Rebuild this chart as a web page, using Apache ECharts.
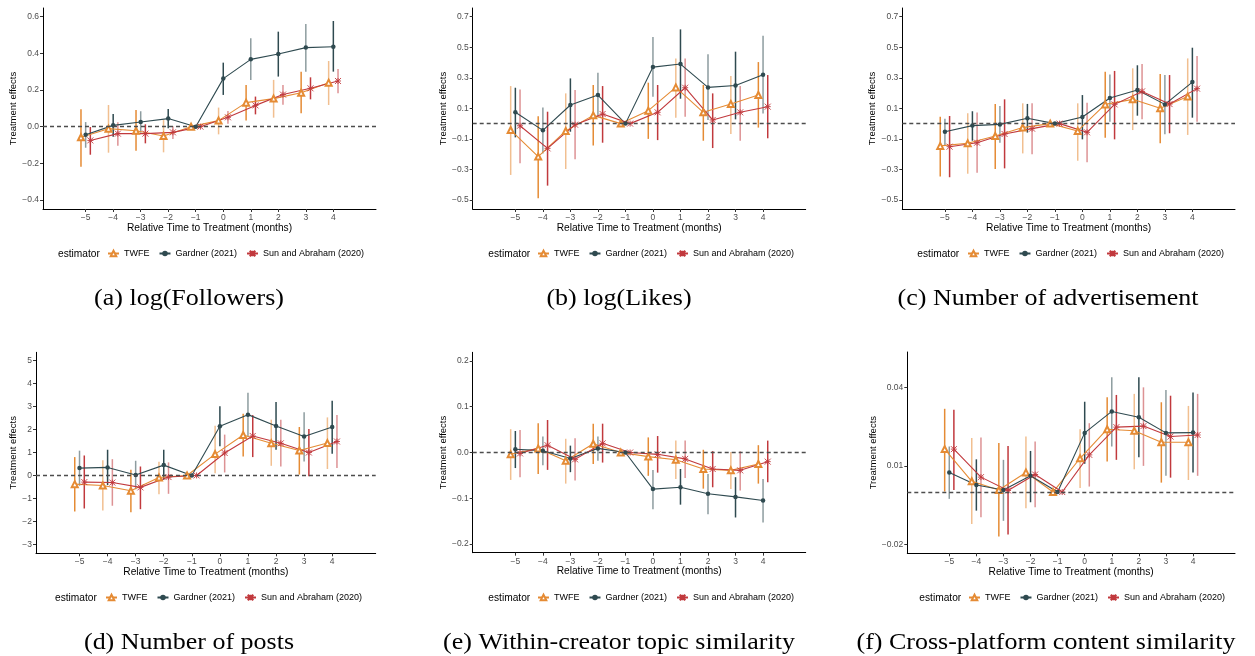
<!DOCTYPE html>
<html><head><meta charset="utf-8">
<script src="https://cdn.jsdelivr.net/npm/echarts@6/dist/echarts.min.js"></script>
<style>html,body{margin:0;padding:0;background:#fff}#c{width:1255px;height:656px}</style>
</head><body><div id="c"></div>
<script>
// ---------- data ----------
const periods = [-5, -4, -3, -2, -1, 0, 1, 2, 3, 4];
const estimators = ['TWFE', 'Gardner (2021)', 'Sun and Abraham (2020)'];

// (a) log(Followers)
const a_twfe = [-0.058, -0.011, -0.022, -0.051, 0, 0.033, 0.131, 0.153, 0.185, 0.240];
const a_twfe_ci = [[-0.218,0.095],[-0.142,0.118],[-0.131,0.091],[-0.140,0.036],null,[-0.042,0.104],[0.033,0.227],[0.049,0.255],[0.073,0.300],[0.118,0.358]];
const a_gard = [-0.044, 0.007, 0.025, 0.044, 0, 0.262, 0.367, 0.396, 0.431, 0.436];
const a_gard_ci = [[-0.115,0.025],[-0.055,0.069],[-0.033,0.084],[-0.009,0.096],null,[0.173,0.349],[0.255,0.482],[0.273,0.518],[0.300,0.560],[0.300,0.576]];
const a_sa = [-0.075, -0.038, -0.038, -0.031, 0, 0.051, 0.116, 0.175, 0.209, 0.249];
const a_sa_ci = [[-0.153,-0.002],[-0.104,0.024],[-0.091,0.013],[-0.067,0.002],null,[0.016,0.085],[0.067,0.164],[0.120,0.227],[0.149,0.269],[0.182,0.315]];
const a_yTicks = [-0.4, -0.2, 0, 0.2, 0.4, 0.6];

// (b) log(Likes)
const b_twfe = [-0.042, -0.216, -0.048, 0.054, 0, 0.085, 0.237, 0.074, 0.128, 0.187];
const b_twfe_ci = [[-0.336,0.246],[-0.489,0.049],[-0.297,0.198],[-0.144,0.253],null,[-0.100,0.268],[0.039,0.427],[-0.112,0.253],[-0.068,0.312],[-0.026,0.403]];
const b_gard = [0.074, -0.044, 0.122, 0.187, 0, 0.370, 0.390, 0.237, 0.250, 0.320];
const b_gard_ci = [[-0.090,0.235],[-0.195,0.106],[-0.053,0.296],[0.041,0.333],null,[0.176,0.567],[0.163,0.617],[0.024,0.455],[0.028,0.471],[0.067,0.576]];
const b_sa = [-0.014, -0.162, -0.007, 0.063, 0, 0.074, 0.235, 0.024, 0.074, 0.111];
const b_sa_ci = [[-0.260,0.224],[-0.406,0.078],[-0.234,0.220],[-0.125,0.246],null,[-0.108,0.253],[0.045,0.427],[-0.160,0.198],[-0.112,0.246],[-0.096,0.318]];
const b_yTicks = [-0.5, -0.3, -0.1, 0.1, 0.3, 0.5, 0.7];

// (c) Number of advertisement
const c_twfe = [-0.146, -0.129, -0.081, -0.026, 0, -0.048, 0.126, 0.159, 0.100, 0.178];
const c_twfe_ci = [[-0.347,0.045],[-0.328,0.068],[-0.297,0.129],[-0.195,0.133],null,[-0.243,0.133],[-0.092,0.340],[-0.042,0.362],[-0.129,0.325],[-0.074,0.427]];
const c_gard = [-0.053, -0.013, -0.005, 0.035, 0, 0.043, 0.168, 0.220, 0.126, 0.272];
const c_gard_ci = [[-0.142,0.032],[-0.112,0.081],[-0.125,0.115],[-0.059,0.129],null,[-0.103,0.187],[0.013,0.321],[0.052,0.382],[-0.070,0.318],[0.039,0.497]];
const c_sa = [-0.151, -0.125, -0.068, -0.033, 0, -0.057, 0.126, 0.211, 0.128, 0.229];
const c_sa_ci = [[-0.351,0.050],[-0.321,0.072],[-0.293,0.159],[-0.201,0.133],null,[-0.253,0.137],[-0.103,0.345],[0.028,0.391],[-0.063,0.318],[0.013,0.443]];
const c_yTicks = [-0.5, -0.3, -0.1, 0.1, 0.3, 0.5, 0.7];

// (d) Number of posts
const d_twfe = [-0.38, -0.44, -0.67, -0.09, 0, 0.93, 1.76, 1.40, 1.09, 1.41];
const d_twfe_ci = [[-1.57,0.80],[-1.53,0.66],[-1.60,0.25],[-0.82,0.60],null,[0.10,2.17],[0.83,2.69],[0.42,2.43],[0.04,2.11],[0.28,2.53]];
const d_gard = [0.32, 0.35, 0.02, 0.45, 0, 2.14, 2.65, 2.15, 1.70, 2.11];
const d_gard_ci = [[-0.45,1.08],[-0.42,1.12],[-0.60,0.64],[-0.19,1.12],null,[1.27,3.01],[1.70,3.60],[1.12,3.20],[0.61,2.75],[0.95,3.26]];
const d_sa = [-0.29, -0.31, -0.52, -0.07, 0, 0.98, 1.72, 1.40, 1.00, 1.48];
const d_sa_ci = [[-1.44,0.87],[-1.32,0.71],[-1.47,0.39],[-0.80,0.57],null,[0.13,1.78],[0.80,2.63],[0.39,2.43],[-0.04,2.02],[0.32,2.63]];
const d_yTicks = [-3, -2, -1, 0, 1, 2, 3, 4, 5];

// (e) Within-creator topic similarity
const e_twfe = [-0.004, 0.009, -0.018, 0.019, 0, -0.009, -0.016, -0.036, -0.039, -0.025];
const e_twfe_ci = [[-0.060,0.051],[-0.047,0.064],[-0.068,0.030],[-0.025,0.063],null,[-0.051,0.033],[-0.058,0.026],[-0.079,0.006],[-0.080,0.001],[-0.068,0.016]];
const e_gard = [0.007, 0.004, -0.013, 0.009, 0, -0.080, -0.076, -0.090, -0.097, -0.105];
const e_gard_ci = [[-0.034,0.047],[-0.028,0.035],[-0.043,0.015],[-0.018,0.035],null,[-0.124,-0.038],[-0.114,-0.036],[-0.135,-0.047],[-0.142,-0.054],[-0.153,-0.058]];
const e_sa = [-0.002, 0.016, -0.015, 0.020, 0, -0.004, -0.014, -0.036, -0.039, -0.020];
const e_sa_ci = [[-0.054,0.049],[-0.038,0.071],[-0.061,0.031],[-0.022,0.063],null,[-0.044,0.036],[-0.056,0.026],[-0.076,0.003],[-0.083,0.003],[-0.065,0.026]];
const e_yTicks = [-0.2, -0.1, 0, 0.1, 0.2];

// (f) Cross-platform content similarity
const f_twfe = [0.0164, 0.0041, 0.0008, 0.0075, 0, 0.0129, 0.0240, 0.0234, 0.0190, 0.0190];
const f_twfe_ci = [[0.0002,0.0318],[-0.0122,0.0206],[-0.0170,0.0187],[-0.0062,0.0212],null,[0.0015,0.0240],[0.0117,0.0362],[0.0087,0.0375],[0.0036,0.0343],[0.0046,0.0329]];
const f_gard = [0.0075, 0.0027, 0.0008, 0.0062, 0, 0.0226, 0.0308, 0.0286, 0.0226, 0.0227];
const f_gard_ci = [[-0.0026,0.0174],[-0.0071,0.0125],[-0.0110,0.0123],[-0.0039,0.0157],null,[0.0108,0.0345],[0.0174,0.0439],[0.0133,0.0439],[0.0062,0.0390],[0.0075,0.0380]];
const f_sa = [0.0164, 0.0057, 0.0006, 0.0067, 0, 0.0142, 0.0248, 0.0252, 0.0212, 0.0218];
const f_sa_ci = [[0.0008,0.0314],[-0.0096,0.0208],[-0.0162,0.0176],[-0.0058,0.0193],null,[0.0021,0.0263],[0.0123,0.0371],[0.0100,0.0400],[0.0055,0.0368],[0.0062,0.0375]];
const f_yTicks = [-0.02, 0.01, 0.04];

// ---------- layout / style ----------
const panels = [
  {est:[a_twfe,a_gard,a_sa], ci:[a_twfe_ci,a_gard_ci,a_sa_ci], yTicks:a_yTicks, yMin:-0.449, yMax:0.647, dec:1,
   grid:{left:43,top:8,width:333,height:201}, yGap:19, xGap:13.5, leg:{left:107,top:249}, legT:[58,255],
   cap:'(a) log(Followers)', capXY:[189,299], phase:[0,1,0]},
  {est:[b_twfe,b_gard,b_sa], ci:[b_twfe_ci,b_gard_ci,b_sa_ci], yTicks:b_yTicks, yMin:-0.559, yMax:0.757, dec:1,
   grid:{left:472.7,top:8,width:333,height:201}, yGap:19, xGap:13.5, leg:{left:537,top:249}, legT:[488.3,255],
   cap:'(b) log(Likes)', capXY:[619,299], phase:[1,0,1]},
  {est:[c_twfe,c_gard,c_sa], ci:[c_twfe_ci,c_gard_ci,c_sa_ci], yTicks:c_yTicks, yMin:-0.559, yMax:0.757, dec:1,
   grid:{left:902.3,top:8,width:332.7,height:201}, yGap:19, xGap:13.5, leg:{left:967,top:249}, legT:[917.3,255],
   cap:'(c) Number of advertisement', capXY:[1048,299], phase:[0,1,0]},
  {est:[d_twfe,d_gard,d_sa], ci:[d_twfe_ci,d_gard_ci,d_sa_ci], yTicks:d_yTicks, yMin:-3.392, yMax:5.366, dec:0,
   grid:{left:36,top:352.3,width:339.7,height:201}, yGap:12, xGap:13, leg:{left:105,top:593}, legT:[55,599],
   cap:'(d) Number of posts', capXY:[189,643], phase:[0,1,0]},
  {est:[e_twfe,e_gard,e_sa], ci:[e_twfe_ci,e_gard_ci,e_sa_ci], yTicks:e_yTicks, yMin:-0.219, yMax:0.219, dec:1,
   grid:{left:472.7,top:352.3,width:333,height:200.4}, yGap:19.5, xGap:13, leg:{left:537,top:593}, legT:[488.3,599],
   cap:'(e) Within-creator topic similarity', capXY:[619,643], phase:[1,0,1]},
  {est:[f_twfe,f_gard,f_sa], ci:[f_twfe_ci,f_gard_ci,f_sa_ci], yTicks:f_yTicks, yMin:-0.0234, yMax:0.0535, dec:2,
   grid:{left:907.3,top:352,width:327.7,height:201.3}, yGap:24, xGap:13, leg:{left:968,top:593}, legT:[919.3,599],
   cap:'(f) Cross-platform content similarity', capXY:[1046,643], phase:[0,1,0]}
];

const colors = ['#E58B34', '#2F4A50', '#C1393D'];
const symbols = ['emptyTriangle', 'circle', 'path://M0,0L10,10M10,0L0,10M5,0L5,10M0,5L10,5'];
const symSizes = [6, 4.5, 6];
const symBorder = [0.9, 0, 0.9];
const dodge = [-0.17, 0, 0.17];
const SANS = '"Liberation Sans", Arial, Helvetica, sans-serif';
const minus = s => s.replace('-', '\u2212');

const option = {
  animation: false,
  textStyle: {fontFamily: SANS},
  grid: [], xAxis: [], yAxis: [], series: [], legend: [], graphic: []
};

panels.forEach((P, i) => {
  option.grid.push(Object.assign({containLabel: false}, P.grid));
  option.xAxis.push({
    type: 'value', gridIndex: i, min: -6.55, max: 5.55,
    axisLine: {show: true, onZero: false, lineStyle: {color: '#000', width: 1}},
    axisTick: {show: true, customValues: periods, length: 3, lineStyle: {color: '#333'}},
    axisLabel: {customValues: periods, formatter: v => minus(String(v)), fontSize: 8.5, color: '#4D4D4D', margin: 4},
    splitLine: {show: false},
    name: 'Relative Time to Treatment (months)', nameLocation: 'middle', nameGap: P.xGap,
    nameTextStyle: {fontSize: 10.2, color: '#000'}
  });
  option.yAxis.push({
    type: 'value', gridIndex: i, min: P.yMin, max: P.yMax,
    axisLine: {show: true, onZero: false, lineStyle: {color: '#000', width: 1}},
    axisTick: {show: true, customValues: P.yTicks, length: 3, lineStyle: {color: '#333'}},
    axisLabel: {customValues: P.yTicks, formatter: v => minus(Number(v).toFixed(P.dec)), fontSize: 8.5, color: '#4D4D4D', margin: 4},
    splitLine: {show: false},
    name: 'Treatment effects', nameLocation: 'middle', nameRotate: 90, nameGap: P.yGap,
    nameTextStyle: {fontSize: 9.5, color: '#000'}
  });

  // error bars
  [0, 1, 2].forEach(k => {
    const ciData = [];
    P.ci[k].forEach((c, j) => { if (c) ciData.push([periods[j], c[0], c[1], j]); });
    const off = dodge[k], col = colors[k], ph = P.phase[k];
    option.series.push({
      type: 'custom', name: '_ci' + k, xAxisIndex: i, yAxisIndex: i, silent: true, z: 2,
      encode: {x: 0, y: [1, 2]},
      data: ciData,
      renderItem: (params, api) => {
        const x = api.value(0) + off;
        const p1 = api.coord([x, api.value(1)]);
        const p2 = api.coord([x, api.value(2)]);
        const solid = (api.value(3) % 2) === ph;
        return {type: 'line', shape: {x1: p1[0], y1: p1[1], x2: p2[0], y2: p2[1]},
                style: {stroke: col, lineWidth: 1.5, opacity: solid ? 1 : 0.55}};
      }
    });
  });

  // lines + points
  [0, 1, 2].forEach(k => {
    const s = {
      type: 'line', name: estimators[k], xAxisIndex: i, yAxisIndex: i, silent: true, z: 3,
      data: periods.map((p, j) => [p + dodge[k], P.est[k][j]]),
      symbol: symbols[k], symbolSize: symSizes[k], showSymbol: true,
      lineStyle: {color: colors[k], width: 1.1},
      itemStyle: {color: colors[k], borderColor: colors[k], borderWidth: symBorder[k]}
    };
    if (k === 1) {
      s.markLine = {silent: true, symbol: ['none', 'none'], label: {show: false},
        lineStyle: {type: [4, 3], color: '#4D4D4D', width: 1.3}, data: [{yAxis: 0}]};
    }
    option.series.push(s);
  });

  option.legend.push({
    left: P.leg.left, top: P.leg.top, orient: 'horizontal', padding: 0,
    itemWidth: 11, itemHeight: 7, itemGap: 9, selectedMode: false,
    textStyle: {fontSize: 9, color: '#000'}, data: estimators
  });

  option.graphic.push({type: 'text', left: P.legT[0], top: P.legT[1] - 6,
    style: {text: 'estimator', fontSize: 10.2, fill: '#000', fontFamily: SANS}});
  option.graphic.push({type: 'text', x: P.capXY[0], y: P.capXY[1], scaleX: 1.13,
    style: {text: P.cap, fontSize: 23, fill: '#000', fontFamily: '"Liberation Serif", "Times New Roman", serif',
      align: 'center', verticalAlign: 'middle'}});
});

const chart = echarts.init(document.getElementById('c'), null, {renderer: 'canvas'});
chart.setOption(option);
</script>
</body></html>
